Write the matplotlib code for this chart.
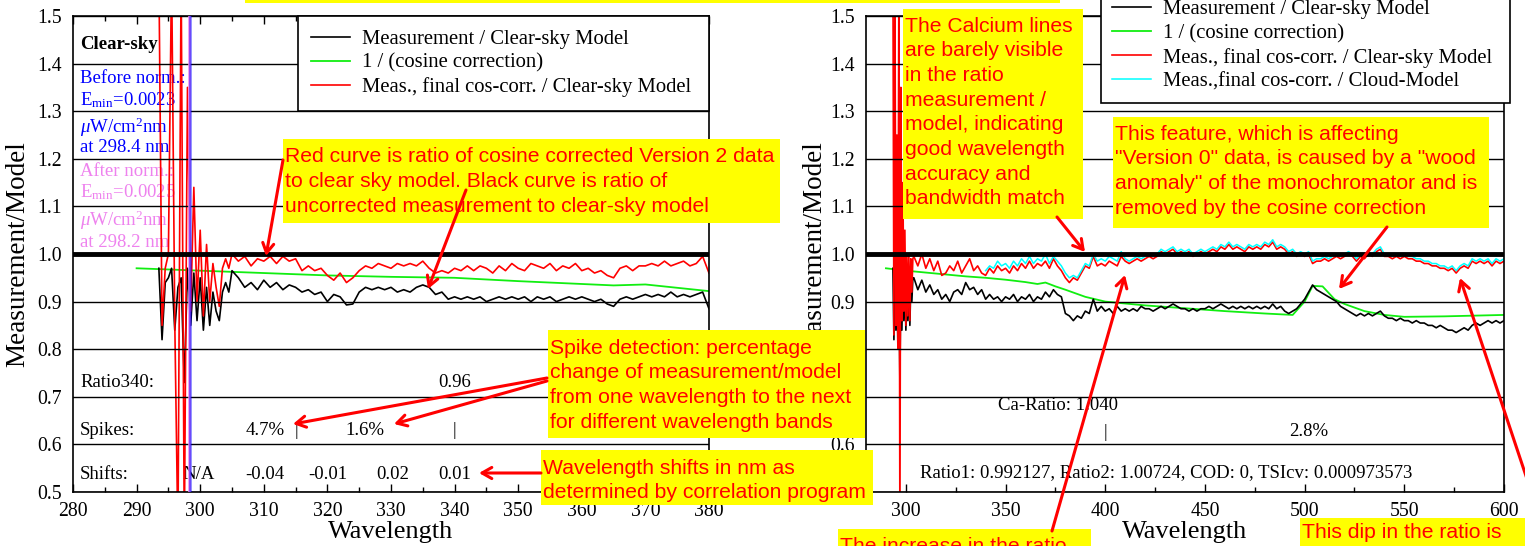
import numpy as np
import matplotlib
matplotlib.use("Agg")
import matplotlib.pyplot as plt
from matplotlib.patches import Rectangle
from matplotlib.ticker import MultipleLocator, FormatStrFormatter

plt.rcParams['font.family'] = ['Liberation Serif', 'DejaVu Serif']
plt.rcParams['mathtext.fontset'] = 'custom'
plt.rcParams['mathtext.rm'] = 'Liberation Serif'
plt.rcParams['mathtext.it'] = 'Liberation Serif:italic'

W, H = 1525, 546

# ---------------- left panel: clear-sky spectrum ----------------
# 0.5 nm steps through the noisy UV edge, then 1 nm steps
wl_left = np.concatenate([np.arange(293.5, 305, 0.5), np.arange(305, 381, 1.0)])
meas_left = [
    0.97, 0.82, 0.94, 0.95, 0.97, 0.84, 0.93, 0.95, 0.73, 0.97,
    0.85, 0.96, 0.86, 0.95, 0.84, 0.93, 0.85, 0.92, 0.88, 0.86,
    0.92, 0.94, 0.92,
    0.965, 0.95, 0.93, 0.94, 0.925, 0.945, 0.93, 0.94, 0.925, 0.935,
    0.93, 0.92, 0.925, 0.915, 0.92, 0.90, 0.915, 0.91, 0.893, 0.895,
    0.92, 0.93, 0.925, 0.93, 0.925, 0.93, 0.92, 0.925, 0.92, 0.93,
    0.935, 0.93, 0.915, 0.92, 0.905, 0.91, 0.905, 0.91, 0.905, 0.91,
    0.90, 0.905, 0.91, 0.905, 0.91, 0.905, 0.91, 0.90, 0.91, 0.905,
    0.91, 0.90, 0.905, 0.91, 0.905, 0.91, 0.905, 0.90, 0.905, 0.895,
    0.89, 0.905, 0.91, 0.905, 0.91, 0.915, 0.91, 0.915, 0.91, 0.92,
    0.91, 0.915, 0.91, 0.915, 0.92, 0.885,
]
corr_left = [
    1.60, 0.85, 0.97, 1.00, 1.60, 0.86, 0.40, 1.60, 0.40, 1.35,
    0.88, 1.14, 0.90, 1.05, 0.87, 1.02, 0.90, 0.98, 0.93, 0.89,
    0.97, 0.99, 0.97,
    1.00, 0.985, 0.995, 0.975, 0.99, 0.985, 0.995, 0.98, 0.995, 0.985,
    0.99, 0.965, 0.975, 0.965, 0.97, 0.955, 0.945, 0.96, 0.94, 0.95,
    0.965, 0.975, 0.97, 0.98, 0.975, 0.97, 0.98, 0.975, 0.98, 0.975,
    0.985, 0.97, 0.96, 0.965, 0.96, 0.97, 0.965, 0.975, 0.965, 0.975,
    0.97, 0.96, 0.975, 0.965, 0.98, 0.97, 0.965, 0.98, 0.975, 0.97,
    0.98, 0.965, 0.975, 0.97, 0.98, 0.965, 0.97, 0.96, 0.965, 0.955,
    0.95, 0.97, 0.975, 0.965, 0.975, 0.975, 0.98, 0.975, 0.985, 0.975,
    0.98, 0.985, 0.975, 0.98, 0.995, 0.96,
]
wl_cos_left = [290, 300, 310, 320, 330, 340, 350, 360, 365, 370, 375, 380]
cos_left = [0.970, 0.965, 0.960, 0.955, 0.952, 0.950, 0.943, 0.937, 0.934, 0.936, 0.929, 0.922]
emin_before_wl = 298.4
emin_after_wl = 298.2

# ---------------- right panel: full spectrum ----------------
wl_right = np.concatenate([np.arange(293.5, 304, 0.5), np.arange(304, 601, 2.0)])
meas_right = [
    0.97, 0.82, 0.96, 0.84, 0.95, 0.80, 0.96, 0.73, 0.95, 0.84,
    0.96, 0.86, 0.95, 0.84, 0.94, 0.86, 0.95, 0.85, 0.94, 0.90,
    0.95,
    0.950, 0.925, 0.945, 0.920, 0.935, 0.915, 0.925, 0.905, 0.915, 0.900,
    0.920, 0.925, 0.915, 0.940, 0.925, 0.930, 0.915, 0.925, 0.905, 0.915,
    0.905, 0.910, 0.900, 0.910, 0.905, 0.915, 0.900, 0.910, 0.905, 0.915,
    0.900, 0.910, 0.905, 0.920, 0.910, 0.925, 0.915, 0.910, 0.875, 0.870,
    0.860, 0.870, 0.865, 0.880, 0.875, 0.905, 0.880, 0.890, 0.880, 0.885,
    0.875, 0.890, 0.880, 0.885, 0.880, 0.885, 0.880, 0.890, 0.885, 0.885,
    0.880, 0.885, 0.890, 0.885, 0.890, 0.895, 0.890, 0.885, 0.885, 0.880,
    0.885, 0.880, 0.885, 0.885, 0.890, 0.885, 0.890, 0.895, 0.890, 0.885,
    0.890, 0.885, 0.890, 0.885, 0.890, 0.885, 0.890, 0.885, 0.890, 0.885,
    0.895, 0.885, 0.890, 0.880, 0.875, 0.880, 0.885, 0.895, 0.905, 0.920,
    0.935, 0.925, 0.920, 0.915, 0.910, 0.905, 0.900, 0.890, 0.885, 0.880,
    0.875, 0.870, 0.875, 0.870, 0.875, 0.870, 0.875, 0.880, 0.870, 0.865,
    0.865, 0.860, 0.865, 0.860, 0.860, 0.855, 0.860, 0.855, 0.855, 0.850,
    0.850, 0.845, 0.850, 0.845, 0.840, 0.840, 0.835, 0.840, 0.845, 0.840,
    0.850, 0.855, 0.850, 0.855, 0.860, 0.855, 0.860, 0.855, 0.860,
]
corr_right = [
    1.60, 0.83, 1.60, 0.85, 1.25, 0.80, 1.60, 0.40, 1.35, 0.86,
    1.15, 0.88, 1.05, 0.85, 1.00, 0.87, 1.00, 0.86, 0.99, 0.92,
    0.99,
    0.995, 0.975, 1.000, 0.970, 0.990, 0.965, 0.985, 0.955, 0.960, 0.975,
    0.965, 0.985, 0.960, 0.975, 0.990, 0.965, 0.975, 0.960, 0.955, 0.970,
    0.960, 0.975, 0.965, 0.970, 0.960, 0.975, 0.965, 0.980, 0.970, 0.985,
    0.970, 0.980, 0.975, 0.985, 0.970, 0.990, 0.975, 0.965, 0.950, 0.940,
    0.950, 0.945, 0.960, 0.975, 0.970, 0.995, 0.975, 0.980, 0.975, 0.985,
    0.980, 0.975, 0.995, 0.985, 0.980, 0.985, 0.990, 0.985, 0.990, 0.995,
    0.990, 0.995, 1.005, 1.000, 1.005, 1.010, 1.000, 1.005, 1.000, 1.005,
    0.995, 1.000, 1.005, 1.000, 1.005, 1.010, 1.005, 1.015, 1.010, 1.020,
    1.010, 1.015, 1.010, 1.005, 1.015, 1.010, 1.015, 1.010, 1.020, 1.015,
    1.025, 1.010, 1.015, 1.010, 1.000, 1.005, 0.995, 1.000, 0.995, 1.000,
    0.980, 0.985, 0.985, 0.990, 0.985, 0.990, 0.995, 0.990, 0.995, 1.000,
    0.995, 0.985, 0.995, 0.990, 1.000, 0.995, 1.005, 1.010, 0.995, 0.995,
    0.990, 0.995, 0.990, 0.995, 0.990, 0.990, 0.985, 0.985, 0.980, 0.980,
    0.975, 0.975, 0.970, 0.970, 0.965, 0.970, 0.960, 0.970, 0.975, 0.970,
    0.985, 0.980, 0.985, 0.980, 0.985, 0.975, 0.985, 0.980, 0.985,
]
wl_cloud = wl_right[wl_right >= 340]
cloud_right = [
    0.965, 0.975, 0.970, 0.985, 0.975, 0.980, 0.970, 0.985, 0.975, 0.990,
    0.980, 0.995, 0.980, 0.990, 0.985, 1.000, 0.980, 0.995, 0.985, 0.975,
    0.960, 0.950, 0.955, 0.950, 0.965, 0.980, 0.975, 1.000, 0.985, 0.990,
    0.985, 0.995, 0.990, 0.985, 1.005, 0.990, 0.985, 0.990, 0.995, 0.990,
    0.995, 1.000, 0.995, 1.000, 1.010, 1.005, 1.010, 1.015, 1.005, 1.010,
    1.005, 1.010, 1.000, 1.005, 1.010, 1.005, 1.010, 1.015, 1.010, 1.020,
    1.015, 1.025, 1.015, 1.020, 1.015, 1.010, 1.020, 1.015, 1.020, 1.015,
    1.025, 1.020, 1.030, 1.015, 1.020, 1.015, 1.005, 1.010, 1.000, 1.005,
    1.000, 1.005, 0.985, 0.990, 0.990, 0.995, 0.990, 0.995, 1.000, 0.995,
    1.000, 1.005, 1.000, 0.990, 1.000, 0.995, 1.005, 1.000, 1.010, 1.015,
    1.000, 1.000, 0.995, 1.000, 0.995, 1.000, 0.995, 0.995, 0.990, 0.990,
    0.985, 0.985, 0.980, 0.980, 0.975, 0.975, 0.970, 0.975, 0.965, 0.975,
    0.980, 0.975, 0.990, 0.985, 0.990, 0.985, 0.990, 0.980, 0.990, 0.985,
    0.990,
]
wl_cos_right = [290, 300, 310, 320, 330, 340, 350, 360, 366, 370, 375, 380, 390, 400, 410,
                420, 440, 460, 480, 494, 500, 504, 509, 515, 520, 530, 540, 550, 570, 600]
cos_right = [0.970, 0.965, 0.961, 0.957, 0.953, 0.950, 0.946, 0.941, 0.937, 0.940, 0.932,
             0.925, 0.910, 0.900, 0.896, 0.892, 0.886, 0.880, 0.875, 0.872, 0.900, 0.933,
             0.932, 0.905, 0.895, 0.880, 0.872, 0.868, 0.869, 0.872]

labels = ['Measurement / Clear-sky Model', '1 / (cosine correction)',
          'Meas., final cos-corr. / Clear-sky Model', 'Meas.,final cos-corr. / Cloud-Model']

GREEN = '#11ee11'
SANS = 'Liberation Sans'


def px_rect(x0, x1, y_top, y_bot):
    return [x0 / W, 1 - y_bot / H, (x1 - x0) / W, (y_bot - y_top) / H]


fig = plt.figure(figsize=(W / 100, H / 100), dpi=100)
ax1 = fig.add_axes(px_rect(73, 709, 16, 492))
ax2 = fig.add_axes(px_rect(866, 1504, 16, 492))

for ax, xr, maj, mnr, lpad in [(ax1, (280, 380), 10, 5, 5), (ax2, (280, 600), 50, 25, 2)]:
    ax.set_xlim(*xr)
    ax.set_ylim(0.5, 1.5)
    ax.xaxis.set_major_locator(MultipleLocator(maj))
    ax.xaxis.set_minor_locator(MultipleLocator(mnr))
    ax.yaxis.set_major_locator(MultipleLocator(0.1))
    ax.yaxis.set_major_formatter(FormatStrFormatter('%.1f'))
    ax.tick_params(axis='x', which='both', direction='in', top=True, labelsize=14.2, pad=7)
    ax.tick_params(axis='x', which='major', length=6, width=1)
    ax.tick_params(axis='x', which='minor', length=3.5, width=1)
    ax.tick_params(axis='y', length=0, labelsize=14.2, pad=8)
    ax.set_axisbelow(False)
    ax.grid(axis='y', color='black', lw=1.0)
    ax.axhline(1.0, color='black', lw=3.5, zorder=3)
    ax.set_xlabel('Wavelength', fontsize=19, labelpad=0)
    ax.set_ylabel('Measurement/Model', fontsize=19.5, labelpad=lpad)
    for s in ax.spines.values():
        s.set_linewidth(1.2)

# left curves
g1, = ax1.plot(wl_cos_left, cos_left, color=GREEN, lw=1.3, label=labels[1])
k1, = ax1.plot(wl_left, meas_left, color='black', lw=1.2, label=labels[0])
r1, = ax1.plot(wl_left, corr_left, color='red', lw=1.2, label=labels[2])
ax1.axvline(emin_after_wl, color='violet', lw=1.8, zorder=2.6)
ax1.axvline(emin_before_wl, color='blue', lw=1.8, alpha=0.55, zorder=2.7)

leg_kw = dict(mode='expand', bbox_transform=fig.transFigure, fontsize=14.9, fancybox=False,
              edgecolor='black', framealpha=1, labelspacing=0.22, handlelength=1.85,
              handletextpad=0.6, borderaxespad=0)
leg1 = ax1.legend(handles=[k1, g1, r1], loc='upper left', borderpad=0.65,
                  bbox_to_anchor=(298 / W, 1 - 113 / H, 411 / W, 97 / H), **leg_kw)
leg1.get_frame().set_linewidth(1.2)
leg1.set_zorder(5)

tk = dict(fontsize=13.5, va='center', zorder=1)
ax1.text(281.1, 1.441, 'Clear-sky', fontweight='bold', **tk)
ax1.text(281.1, 1.368, 'Before norm.:', color='blue', **tk)
ax1.text(281.1, 1.324, r'E$_{\rm min}$=0.0023', color='blue', **tk)
ax1.text(281.1, 1.267, r'$\mu$W/cm$^2$nm', color='blue', **tk)
ax1.text(281.1, 1.223, 'at %.1f nm' % emin_before_wl, color='blue', **tk)
ax1.text(281.1, 1.174, 'After norm.:', color='violet', **tk)
ax1.text(281.1, 1.130, r'E$_{\rm min}$=0.0025', color='violet', **tk)
ax1.text(281.1, 1.071, r'$\mu$W/cm$^2$nm', color='violet', **tk)
ax1.text(281.1, 1.025, 'at %.1f nm' % emin_after_wl, color='violet', **tk)

ax1.text(281.1, 0.729, 'Ratio340:', **tk)
ax1.text(340, 0.729, '0.96', ha='center', **tk)
ax1.text(281.1, 0.630, 'Spikes:', **tk)
for x, s in [(310.2, '4.7%'), (315.1, '|'), (325.9, '1.6%'), (339.9, '|')]:
    ax1.text(x, 0.630, s, ha='center', **tk)
ax1.text(281.1, 0.536, 'Shifts:', **tk)
for x, s in [(299.7, 'N/A'), (310.2, '-0.04'), (320.1, '-0.01'), (330.2, '0.02'), (340, '0.01')]:
    ax1.text(x, 0.536, s, ha='center', **tk)

# right curves
g2, = ax2.plot(wl_cos_right, cos_right, color=GREEN, lw=1.3, label=labels[1])
k2, = ax2.plot(wl_right, meas_right, color='black', lw=1.2, label=labels[0])
r2, = ax2.plot(wl_right, corr_right, color='red', lw=1.2, label=labels[2])
c2, = ax2.plot(wl_cloud, cloud_right, color='cyan', lw=1.1, label=labels[3])

leg2 = ax2.legend(handles=[k2, g2, r2, c2], loc='lower left', borderpad=0.55,
                  bbox_to_anchor=(1101 / W, 1 - 103 / H, 409 / W, 0.3), **leg_kw)
leg2.get_frame().set_linewidth(1.2)
leg2.set_zorder(5)

ax2.text(376.5, 0.681, 'Ca-Ratio: 1.040', ha='center', **tk)
ax2.text(400, 0.626, '|', ha='center', **tk)
ax2.text(502, 0.628, '2.8%', ha='center', **tk)
ax2.text(307, 0.540, 'Ratio1: 0.992127, Ratio2: 1.00724, COD: 0, TSIcv: 0.000973573', **tk)

# ---------------- overlay: yellow call-outs and arrows (pixel coords) ----------------
ov = fig.add_axes([0, 0, 1, 1])
ov.set_zorder(10)
ov.set_xlim(0, W)
ov.set_ylim(H, 0)
ov.axis('off')

notes = [
    ((245, 1060, -5, 3), 0, 0, []),
    ((283, 780, 139, 223), 285, 157,
     ['Red curve is ratio of cosine corrected Version 2 data',
      'to clear sky model. Black curve is ratio of',
      'uncorrected measurement to clear-sky model']),
    ((548, 865, 330, 438), 550, 348,
     ['Spike detection: percentage', 'change of measurement/model',
      'from one wavelength to the next', 'for different wavelength bands']),
    ((541, 873, 450, 505), 543, 468,
     ['Wavelength shifts in nm as', 'determined by correlation program']),
    ((903, 1083, 9, 219), 905, 26,
     ['The Calcium lines', 'are barely visible', 'in the ratio', 'measurement /',
      'model, indicating', 'good wavelength', 'accuracy and', 'bandwidth match']),
    ((1113, 1489, 117, 228), 1115, 134,
     ['This feature, which is affecting', '"Version 0" data, is caused by a "wood',
      'anomaly" of the monochromator and is', 'removed by the cosine correction']),
    ((838, 1091, 529, 560), 840, 546, ['The increase in the ratio']),
    ((1300, 1530, 518, 560), 1302, 533, ['This dip in the ratio is']),
]
for (x0, x1, y0, y1), tx, ty, lines in notes:
    ov.add_patch(Rectangle((x0, y0), x1 - x0, y1 - y0, facecolor='#ffff00',
                           edgecolor='none', zorder=1))
    for i, line in enumerate(lines):
        ov.text(tx, ty + i * 24.7, line, family=SANS, fontsize=15.2, color='red',
                ha='left', va='center', zorder=2)

arrows = [
    ((283, 160), (266, 256)),
    ((466, 190), (428, 289)),
    ((547, 378), (293, 424)),
    ((547, 381), (394, 424)),
    ((541, 473), (479, 473)),
    ((1057, 217), (1085, 252)),
    ((1387, 227), (1339, 289)),
    ((1052, 531), (1125, 275)),
    ((1530, 488), (1460, 278)),
]
for tail, head in arrows:
    ov.annotate('', xy=head, xytext=tail, zorder=3,
                arrowprops=dict(arrowstyle='->,head_length=0.7,head_width=0.4',
                                color='red', lw=2.2, shrinkA=0, shrinkB=0))

fig.savefig('out.png', dpi=100)
